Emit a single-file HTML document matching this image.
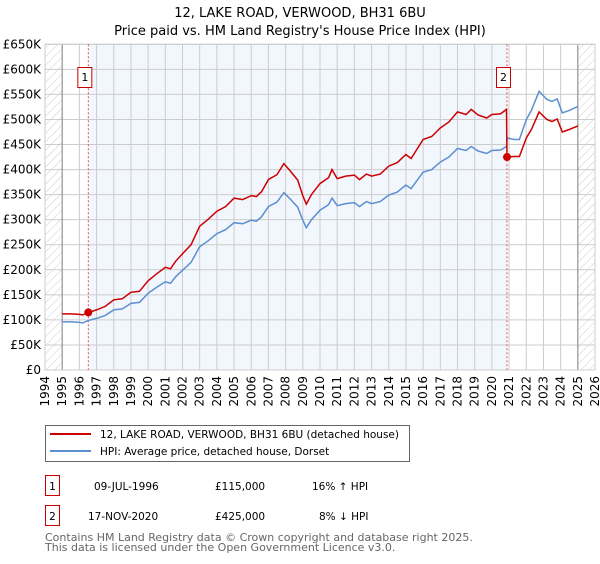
<!DOCTYPE html>
<html><head><meta charset="utf-8"><style>
body{margin:0;background:#fff;font-family:"DejaVu Sans","Liberation Sans",sans-serif;}
svg text{font-family:"DejaVu Sans","Liberation Sans",sans-serif;}
</style></head><body>
<svg id="chart" width="600" height="560" xmlns="http://www.w3.org/2000/svg">
<defs><pattern id="hatch" patternUnits="userSpaceOnUse" width="6" height="6" patternTransform="rotate(45)"><line x1="0" y1="0" x2="0" y2="6" stroke="#ccc" stroke-width="1"/></pattern></defs>
<text x="300" y="17" text-anchor="middle" font-size="13">12, LAKE ROAD, VERWOOD, BH31 6BU</text>
<text x="300" y="35" text-anchor="middle" font-size="13">Price paid vs. HM Land Registry's House Price Index (HPI)</text>
<g id="plot"></g>
<g>
<rect x="45.5" y="425.5" width="364" height="36" fill="#fff" stroke="#666"/>
<line x1="50" y1="434" x2="91" y2="434" stroke="#cc0000" stroke-width="2"/>
<text x="100" y="438" font-size="10.5">12, LAKE ROAD, VERWOOD, BH31 6BU (detached house)</text>
<line x1="50" y1="451" x2="91" y2="451" stroke="#5b8fd0" stroke-width="2"/>
<text x="100" y="455" font-size="10.5">HPI: Average price, detached house, Dorset</text>
</g>
<g font-size="10.5">
<rect x="45.5" y="475.5" width="14" height="20" fill="#fff" stroke="#cc0000"/>
<text x="52.5" y="490" text-anchor="middle">1</text>
<text x="94" y="490">09-JUL-1996</text>
<text x="215" y="490">£115,000</text>
<text x="312" y="490">16% ↑ HPI</text>
</g>
<g font-size="10.5">
<rect x="45.5" y="505.5" width="14" height="20" fill="#fff" stroke="#cc0000"/>
<text x="52.5" y="520" text-anchor="middle">2</text>
<text x="88" y="520">17-NOV-2020</text>
<text x="215" y="520">£425,000</text>
<text x="319" y="520">8% ↓ HPI</text>
</g>
<text x="45" y="541" font-size="11" fill="#666">Contains HM Land Registry data © Crown copyright and database right 2025.</text>
<text x="45" y="551" font-size="11" fill="#666">This data is licensed under the Open Government Licence v3.0.</text>
</svg>
<script>
const hpiYears=[1995,1995.5,1996,1996.2,1996.52,1997,1997.5,1998,1998.5,1999,1999.5,2000,2000.5,2001,2001.3,2001.6,2002,2002.5,2003,2003.5,2004,2004.5,2005,2005.5,2006,2006.3,2006.6,2007,2007.5,2007.9,2008.3,2008.7,2009,2009.2,2009.5,2010,2010.5,2010.7,2011,2011.5,2012,2012.3,2012.7,2013,2013.5,2014,2014.5,2015,2015.3,2016,2016.5,2017,2017.5,2018,2018.5,2018.8,2019.2,2019.7,2020,2020.5,2020.85,2020.9,2021.3,2021.6,2022,2022.3,2022.75,2023.2,2023.5,2023.8,2024.1,2024.5,2025];
const hpiValues=[96,96,95,94,99,103,109,120,122,133,135,153,165,176,173,186,199,215,246,258,272,280,294,292,299,297,306,326,335,354,340,325,299,284,300,319,330,343,328,332,334,326,336,332,336,349,355,369,362,395,400,415,425,442,438,446,437,432,438,439,446,463,460,460,500,518,556,540,536,541,513,518,526];
const redYears=[1995,1995.5,1996,1996.2,1996.52,1997,1997.5,1998,1998.5,1999,1999.5,2000,2000.5,2001,2001.3,2001.6,2002,2002.5,2003,2003.5,2004,2004.5,2005,2005.5,2006,2006.3,2006.6,2007,2007.5,2007.9,2008.3,2008.7,2009,2009.2,2009.5,2010,2010.5,2010.7,2011,2011.5,2012,2012.3,2012.7,2013,2013.5,2014,2014.5,2015,2015.3,2016,2016.5,2017,2017.5,2018,2018.5,2018.8,2019.2,2019.7,2020,2020.5,2020.85,2020.88,2021.3,2021.6,2022,2022.3,2022.75,2023.2,2023.5,2023.8,2024.1,2024.5,2025];
const redValues=[112,112,111,110,115,120,127,140,142,155,157,178,192,205,202,217,232,250,287,301,317,326,343,340,348,346,356,380,390,412,396,379,348,331,350,372,384,400,382,387,389,380,391,387,391,407,414,430,422,460,466,483,495,515,510,520,509,503,510,511,520,425,426,426,463,480,515,500,496,501,475,480,487];
const saleYears=[1996.52,2020.88];
const saleValues=[115,425];
const saleLabels=["1","2"];
const yTicks=[0,50,100,150,200,250,300,350,400,450,500,550,600,650];
const yTickLabels=["£0","£50K","£100K","£150K","£200K","£250K","£300K","£350K","£400K","£450K","£500K","£550K","£600K","£650K"];
const xTicks=[1994,1995,1996,1997,1998,1999,2000,2001,2002,2003,2004,2005,2006,2007,2008,2009,2010,2011,2012,2013,2014,2015,2016,2017,2018,2019,2020,2021,2022,2023,2024,2025,2026];

const X0=45,X1=595,Y0=370,Y1=44.3;
const xs=y=>X0+(y-1994)/(2026-1994)*(X1-X0);
const ys=v=>Y0-v/650*(Y0-Y1);
const NS="http://www.w3.org/2000/svg";
const g=document.getElementById('plot');
function mk(tag,attrs,parent){const e=document.createElementNS(NS,tag);for(const k in attrs)e.setAttribute(k,attrs[k]);(parent||g).appendChild(e);return e;}

let e=mk('rect',{x:xs(saleYears[0]),y:Y1,width:xs(saleYears[1])-xs(saleYears[0]),height:Y0-Y1,fill:'#f2f6fd'});


e=mk('rect',{x:X0,y:Y1,width:xs(1995)-X0,height:Y0-Y1,fill:'url(#hatch)'});


e=mk('rect',{x:xs(2025),y:Y1,width:X1-xs(2025),height:Y0-Y1,fill:'url(#hatch)'});



yTicks.forEach((t,i)=>{
  const l=mk('line',{x1:X0,x2:X1,y1:ys(t),y2:ys(t),stroke:'#ccc','stroke-width':1});
  
  
  const tx=mk('text',{x:X0-4,y:ys(t)+4,'text-anchor':'end','font-size':12});
  
  
  tx.textContent=yTickLabels[i];
});
xTicks.forEach(t=>{
  const l=mk('line',{x1:xs(t),x2:xs(t),y1:Y1,y2:Y0,stroke:'#ccc','stroke-width':1});
  
  
  const tx=mk('text',{x:0,y:0,'font-size':12,'text-anchor':'end',transform:`translate(${xs(t)+4},${Y0+6}) rotate(-90)`});
  
  
  tx.textContent=t;
});
e=mk('line',{x1:xs(1995),x2:xs(1995),y1:Y1,y2:Y0,stroke:'#888','stroke-width':1});


e=mk('line',{x1:xs(2025),x2:xs(2025),y1:Y1,y2:Y0,stroke:'#888','stroke-width':1});


e=mk('rect',{x:X0,y:Y1,width:X1-X0,height:Y0-Y1,fill:'none',stroke:'#ccc'});



saleYears.forEach((yr,i)=>{
  const l=mk('line',{x1:xs(yr),x2:xs(yr),y1:Y1,y2:Y0,stroke:'#e05050','stroke-width':1,'stroke-dasharray':'2,2'});
  
  
});

const pts=(xsA,vs)=>xsA.map((y,i)=>xs(y).toFixed(1)+','+ys(vs[i]).toFixed(1)).join(' ');
e=mk('polyline',{points:pts(hpiYears,hpiValues),fill:'none',stroke:'#5b8fd0','stroke-width':1.5});


e=mk('polyline',{points:pts(redYears,redValues),fill:'none',stroke:'#cc0000','stroke-width':1.5});



saleYears.forEach((yr,i)=>{
  const c=mk('circle',{cx:xs(yr),cy:ys(saleValues[i]),r:4,fill:'#cc0000'});
  
  
  const bx=xs(yr)-3.5;
  const r=mk('rect',{x:bx-7,y:67.5,width:14,height:20,fill:'#fff',stroke:'#cc0000'});
  
  
  const t=mk('text',{x:bx,y:81,'text-anchor':'middle','font-size':11});
  
  
  t.textContent=saleLabels[i];
});
</script>
</body></html>
